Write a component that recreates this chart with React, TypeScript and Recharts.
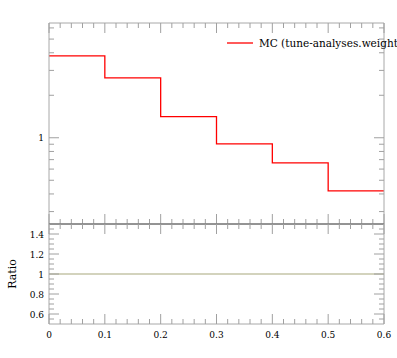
import { LineChart, Line, XAxis, YAxis, Legend } from "recharts"

const binEdges = [0, 0.1, 0.2, 0.3, 0.4, 0.5, 0.6]
const mcValues = [3.8, 2.66, 1.41, 0.906, 0.665, 0.42]
const ratioValues = [1, 1, 1, 1, 1, 1]

const xTicks = [
  0, 0.02, 0.04, 0.06, 0.08, 0.1, 0.12, 0.14, 0.16, 0.18, 0.2, 0.22, 0.24, 0.26, 0.28, 0.3,
  0.32, 0.34, 0.36, 0.38, 0.4, 0.42, 0.44, 0.46, 0.48, 0.5, 0.52, 0.54, 0.56, 0.58, 0.6,
]
const xMajorTicks = [0, 0.1, 0.2, 0.3, 0.4, 0.5, 0.6]
const mainYTicks = [0.3, 0.4, 0.5, 0.6, 0.7, 0.8, 0.9, 1, 2, 3, 4, 5, 6]
const mainYMajorTicks = [1]
const ratioYTicks = [
  0.55, 0.6, 0.65, 0.7, 0.75, 0.8, 0.85, 0.9, 0.95, 1, 1.05, 1.1, 1.15, 1.2, 1.25, 1.3, 1.35, 1.4, 1.45,
]
const ratioYMajorTicks = [0.6, 0.8, 1, 1.2, 1.4]

const mainData = binEdges.map((x, i) => ({ x, mc: mcValues[Math.min(i, mcValues.length - 1)] }))
const ratioData = binEdges.map((x, i) => ({ x, ratio: ratioValues[Math.min(i, ratioValues.length - 1)] }))

const FONT = "'DejaVu Serif', 'Liberation Serif', serif"
const TICK = "#a0a0a0"
const FRAME = "#a8a8a8"
const MID = "#707070"

const isMajor = (v: number, list: number[]) => list.some((m) => Math.abs(m - v) < 1e-9)

// ticks point into the plot; labels only on major ticks when asked
function makeTick(side: "top" | "bottom" | "left" | "right", majors: number[], withLabels: boolean) {
  return (props: any) => {
    const { x, y, payload } = props
    const major = isMajor(payload.value, majors)
    const len = major ? 10 : 5
    let line
    if (side === "bottom") line = <line x1={x} x2={x} y1={y} y2={y - len} stroke={TICK} />
    else if (side === "top") line = <line x1={x} x2={x} y1={y} y2={y + len} stroke={TICK} />
    else if (side === "left") line = <line x1={x} x2={x + len} y1={y} y2={y} stroke={TICK} />
    else line = <line x1={x} x2={x - len} y1={y} y2={y} stroke={TICK} />
    let label = null
    if (withLabels && major) {
      if (side === "bottom")
        label = (
          <text x={x} y={y + 14} textAnchor="middle" fontSize={9} fontFamily={FONT} fill="#000">
            {payload.value}
          </text>
        )
      if (side === "left")
        label = (
          <text x={x - 5} y={y + 3.5} textAnchor="end" fontSize={9} fontFamily={FONT} fill="#000">
            {payload.value}
          </text>
        )
    }
    return (
      <g>
        {line}
        {label}
      </g>
    )
  }
}

function LegendBox() {
  return (
    <div style={{ display: "flex", alignItems: "center", whiteSpace: "nowrap", fontFamily: FONT, fontSize: 10.5 }}>
      <svg width={33} height={10} style={{ display: "block" }}>
        <line x1={1} x2={27} y1={5} y2={5} stroke="#ff0000" strokeWidth={1.3} />
      </svg>
      <span style={{ color: "#000" }}>MC (tune-analyses.weights)</span>
    </div>
  )
}

function RatioLabel(props: any) {
  const vb = props.viewBox || { x: 0, y: 1, height: 100 }
  const cx = 16
  const cy = vb.y + vb.height / 2
  return (
    <text x={cx} y={cy} transform={`rotate(-90, ${cx}, ${cy})`} textAnchor="middle" fontSize={11} fontFamily={FONT} fill="#000">
      Ratio
    </text>
  )
}

export default function App() {
  return (
    <div style={{ position: "absolute", left: 0, top: 0, width: 397, height: 358, overflow: "hidden", background: "#fff" }}>
      <div style={{ position: "absolute", left: 0, top: 0 }}>
        <LineChart width={397} height={225} data={mainData} margin={{ top: 22, right: 12, bottom: 0, left: 0 }}>
          <XAxis
            dataKey="x"
            type="number"
            domain={[0, 0.6]}
            ticks={xTicks}
            interval={0}
            height={1}
            tickSize={0}
            tickMargin={0}
            axisLine={{ stroke: MID }}
            tick={makeTick("bottom", xMajorTicks, false)}
          />
          <XAxis
            xAxisId="top"
            orientation="top"
            dataKey="x"
            type="number"
            domain={[0, 0.6]}
            ticks={xTicks}
            interval={0}
            height={1}
            tickSize={0}
            tickMargin={0}
            axisLine={{ stroke: FRAME }}
            tick={makeTick("top", xMajorTicks, false)}
          />
          <YAxis
            type="number"
            scale="log"
            domain={[0.245, 6.5]}
            allowDataOverflow
            ticks={mainYTicks}
            interval={0}
            width={49}
            tickSize={0}
            tickMargin={0}
            axisLine={{ stroke: FRAME }}
            tick={makeTick("left", mainYMajorTicks, true)}
          />
          <YAxis
            yAxisId="r"
            orientation="right"
            type="number"
            scale="log"
            domain={[0.245, 6.5]}
            allowDataOverflow
            ticks={mainYTicks}
            interval={0}
            width={1}
            tickSize={0}
            tickMargin={0}
            axisLine={{ stroke: FRAME }}
            tick={makeTick("right", mainYMajorTicks, false)}
          />
          <Legend
            layout="horizontal"
            verticalAlign="middle"
            align="center"
            wrapperStyle={{ left: 226, top: 37, width: "auto", height: "auto" }}
            content={LegendBox}
          />
          {/* invisible twin so the top/right frame axes have a series */}
          <Line
            xAxisId="top"
            yAxisId="r"
            type="stepAfter"
            dataKey="mc"
            stroke="none"
            dot={false}
            activeDot={false}
            legendType="none"
            isAnimationActive={false}
          />
          <Line
            type="stepAfter"
            dataKey="mc"
            name="MC (tune-analyses.weights)"
            stroke="#ff0000"
            strokeWidth={1.3}
            dot={false}
            activeDot={false}
            isAnimationActive={false}
          />
        </LineChart>
      </div>
      <div style={{ position: "absolute", left: 0, top: 223 }}>
        <LineChart width={397} height={135} data={ratioData} margin={{ top: 0, right: 12, bottom: 0, left: 0 }}>
          <XAxis
            dataKey="x"
            type="number"
            domain={[0, 0.6]}
            ticks={xTicks}
            interval={0}
            height={34}
            tickSize={0}
            tickMargin={0}
            axisLine={{ stroke: FRAME }}
            tick={makeTick("bottom", xMajorTicks, true)}
          />
          <XAxis
            xAxisId="top"
            orientation="top"
            dataKey="x"
            type="number"
            domain={[0, 0.6]}
            ticks={xTicks}
            interval={0}
            height={1}
            tickSize={0}
            tickMargin={0}
            axisLine={{ stroke: MID }}
            tick={makeTick("top", xMajorTicks, false)}
          />
          <YAxis
            type="number"
            domain={[0.5, 1.5]}
            allowDataOverflow
            ticks={ratioYTicks}
            interval={0}
            width={49}
            tickSize={0}
            tickMargin={0}
            axisLine={{ stroke: FRAME }}
            tick={makeTick("left", ratioYMajorTicks, true)}
            label={RatioLabel}
          />
          <YAxis
            yAxisId="r"
            orientation="right"
            type="number"
            domain={[0.5, 1.5]}
            allowDataOverflow
            ticks={ratioYTicks}
            interval={0}
            width={1}
            tickSize={0}
            tickMargin={0}
            axisLine={{ stroke: FRAME }}
            tick={makeTick("right", ratioYMajorTicks, false)}
          />
          <Line
            xAxisId="top"
            yAxisId="r"
            type="stepAfter"
            dataKey="ratio"
            stroke="none"
            dot={false}
            activeDot={false}
            isAnimationActive={false}
          />
          <Line
            type="stepAfter"
            dataKey="ratio"
            stroke="#a8a87c"
            strokeWidth={1.2}
            dot={false}
            activeDot={false}
            isAnimationActive={false}
          />
        </LineChart>
      </div>
    </div>
  )
}
